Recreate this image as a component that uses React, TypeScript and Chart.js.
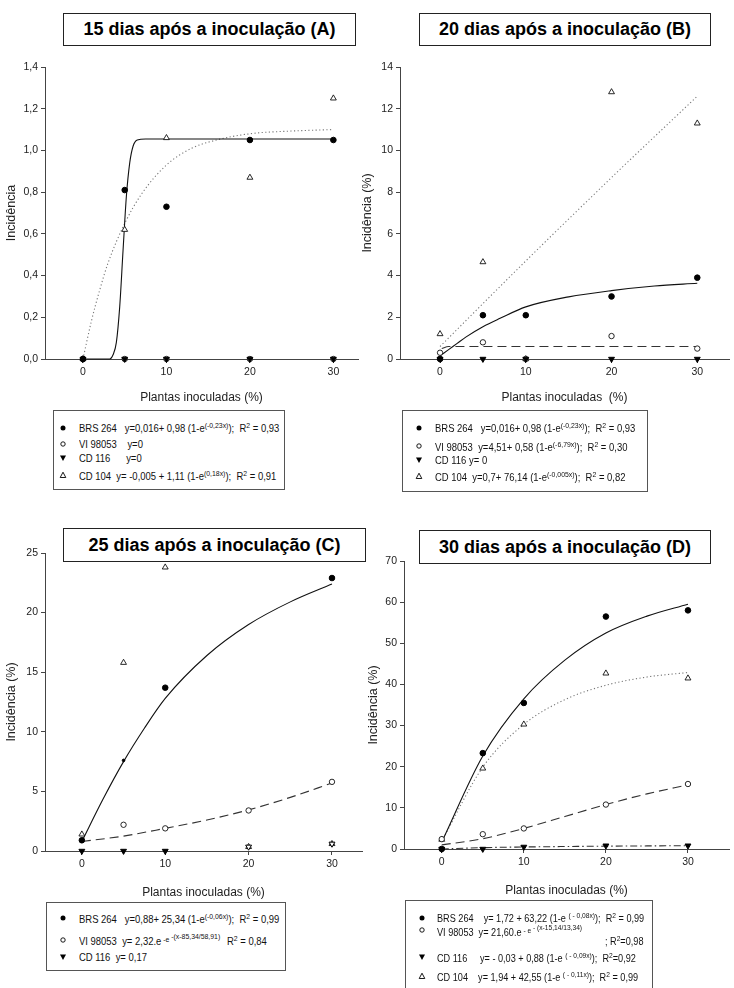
import React, { useEffect, useRef } from "react";
import { Chart, registerables } from "chart.js";
Chart.register(...registerables);

const NARROW = "'Liberation Sans Narrow', 'Arial Narrow', 'Liberation Sans', Arial, sans-serif";
const SANS = "'Liberation Sans', Arial, Helvetica, sans-serif";

// ---------- shared ----------
const X_PTS = [0, 5, 10, 20, 30];
const X_TICKS = [0, 10, 20, 30];

// ---------- Panel A (15 dias) ----------
const A_Y_TICKS = [0, 0.2, 0.4, 0.6, 0.8, 1.0, 1.2, 1.4];
const A_BRS = [0, 0.81, 0.73, 1.05, 1.05];
const A_VI = [0, 0, 0, 0, 0];
const A_CD116 = [0, 0, 0, 0, 0];
const A_CD104 = [0, 0.62, 1.06, 0.87, 1.25];
const A_FIT_BRS_X = [0, 3.2, 3.6, 4.0, 4.4, 4.8, 5.2, 5.6, 6.0, 6.5, 7.5, 10, 20, 30];
const A_FIT_BRS_Y = [0, 0, 0.02, 0.08, 0.25, 0.52, 0.78, 0.94, 1.02, 1.05, 1.055, 1.055, 1.055, 1.055];
const A_FIT_CD104_X = [0, 1, 2, 3, 5, 7, 10, 13, 16, 20, 25, 30];
const A_FIT_CD104_Y = [0, 0.18, 0.33, 0.46, 0.65, 0.79, 0.93, 1.01, 1.05, 1.08, 1.093, 1.1];

// ---------- Panel B (20 dias) ----------
const B_Y_TICKS = [0, 2, 4, 6, 8, 10, 12, 14];
const B_BRS = [0, 2.1, 2.1, 3.0, 3.9];
const B_VI = [0.3, 0.8, 0, 1.1, 0.5];
const B_CD116 = [0, 0, 0, 0, 0];
const B_CD104 = [1.2, 4.65, 0, 12.8, 11.3];
const B_FIT_BRS_X = [0, 1, 2, 3, 5, 7, 10, 15, 20, 25, 30];
const B_FIT_BRS_Y = [0.15, 0.45, 0.75, 1.05, 1.55, 1.95, 2.5, 2.98, 3.28, 3.5, 3.63];
const B_FIT_VI_X = [0.2, 1, 30];
const B_FIT_VI_Y = [0.5, 0.6, 0.6];
const B_FIT_CD104_X = [0, 10, 20, 30];
const B_FIT_CD104_Y = [0.6, 4.7, 8.7, 12.6];

// ---------- Panel C (25 dias) ----------
const C_Y_TICKS = [0, 5, 10, 15, 20, 25];
const C_BRS = [0.9, 7.6, 13.7, null, 22.9];
const C_VI = [null, 2.2, 1.9, 3.4, 5.8];
const C_CD116 = [0, 0, 0, 0.35, 0.6];
const C_CD104 = [1.4, 15.8, 23.8, 0.35, 0.6];
const C_FIT_BRS_X = [0, 2.5, 5, 7.5, 10, 15, 20, 25, 30];
const C_FIT_BRS_Y = [0.8, 4.3, 7.5, 10.3, 12.8, 16.4, 19.0, 20.9, 22.4];
const C_FIT_VI_X = [0, 5, 10, 15, 20, 25, 30];
const C_FIT_VI_Y = [0.8, 1.25, 1.9, 2.6, 3.45, 4.5, 5.7];

// ---------- Panel D (30 dias) ----------
const D_Y_TICKS = [0, 10, 20, 30, 40, 50, 60, 70];
const D_BRS = [0, 23.3, 35.5, 56.5, 58.0];
const D_VI = [2.4, 3.6, 5.0, 10.8, 15.8];
const D_CD116 = [0, 0, 0.5, 0.8, 0.8];
const D_CD104 = [2.3, 19.6, 30.3, 42.7, 41.5];
const D_FIT_X = [0, 5, 10, 15, 20, 25, 30];
const D_FIT_BRS_Y = [1.7, 22.6, 36.5, 45.9, 52.5, 56.6, 59.5];
const D_FIT_VI_Y = [1.0, 2.5, 5.0, 7.9, 10.8, 13.4, 15.6];
const D_FIT_CD104_Y = [1.9, 19.9, 30.3, 36.3, 39.8, 41.8, 42.9];
const D_FIT_CD116_Y = [0, 0.33, 0.49, 0.6, 0.69, 0.75, 0.8];

// ---------- styles ----------
const MK: any = {
  brs: { order: 0, pointStyle: "circle", pointRadius: 2.8, pointBackgroundColor: "#000", pointBorderColor: "#000", pointBorderWidth: 1 },
  cd116: { order: 1, pointStyle: "triangle", pointRotation: 180, pointRadius: 3.4, pointBackgroundColor: "#000", pointBorderColor: "#000", pointBorderWidth: 1 },
  vi: { order: 2, pointStyle: "circle", pointRadius: 2.7, pointBackgroundColor: "#fff", pointBorderColor: "#111", pointBorderWidth: 0.9 },
  cd104: { order: 3, pointStyle: "triangle", pointRadius: 3.4, pointBackgroundColor: "#fff", pointBorderColor: "#111", pointBorderWidth: 0.9 },
};
const LN: any = {
  solid: { borderColor: "#111", borderWidth: 1.1, borderDash: [] },
  dotted: { borderColor: "#777", borderWidth: 1.1, borderDash: [1.2, 2.4] },
  dashed: { borderColor: "#333", borderWidth: 1.1, borderDash: [9, 5] },
  dashdot: { borderColor: "#333", borderWidth: 1.1, borderDash: [7, 3, 1.5, 3] },
};

const commaFmt = (v: number) => v.toFixed(1).replace(".", ",");

const PANELS: any[] = [
  {
    left: 0, top: 55, width: 367, height: 350, padTop: 12, padRight: 9, padBottom: 0,
    yWidth: 45, xHeight: 46, xMin: -4.55, xMax: 32.95, yMax: 1.4, yTicks: A_Y_TICKS, yFmt: commaFmt,
    yTitle: "Incidência", yTitlePad: 4, xTitle: "Plantas inoculadas (%)",
    markers: [
      { ys: A_BRS, st: "brs" }, { ys: A_CD116, st: "cd116" }, { ys: A_VI, st: "vi" }, { ys: A_CD104, st: "cd104" },
    ],
    fits: [
      { xs: A_FIT_BRS_X, ys: A_FIT_BRS_Y, st: "solid" },
      { xs: A_FIT_CD104_X, ys: A_FIT_CD104_Y, st: "dotted" },
    ],
  },
  {
    left: 358, top: 55, width: 376, height: 350, padTop: 12, padRight: 5, padBottom: 0,
    yWidth: 42, xHeight: 46, xMin: -4.67, xMax: 33.7, yMax: 14, yTicks: B_Y_TICKS, yFmt: (v: number) => String(v),
    yTitle: "Incidência (%)", yTitlePad: 2, xTitle: "Plantas inoculadas  (%)",
    markers: [
      { ys: B_BRS, st: "brs" }, { ys: B_CD116, st: "cd116" }, { ys: B_VI, st: "vi" }, { ys: B_CD104, st: "cd104" },
    ],
    fits: [
      { xs: B_FIT_BRS_X, ys: B_FIT_BRS_Y, st: "solid" },
      { xs: B_FIT_VI_X, ys: B_FIT_VI_Y, st: "dashed" },
      { xs: B_FIT_CD104_X, ys: B_FIT_CD104_Y, st: "dotted" },
    ],
  },
  {
    left: 0, top: 540, width: 367, height: 360, padTop: 13, padRight: 4, padBottom: 0,
    yWidth: 45, xHeight: 49, xMin: -4.42, xMax: 33.6, yMax: 25, yTicks: C_Y_TICKS, yFmt: (v: number) => String(v),
    yTitle: "Incidência (%)", yTitlePad: 4, xTitle: "Plantas inoculadas (%)",
    markers: [
      { ys: C_BRS, st: "brs", radius: [2.8, 1.3, 2.8, 2.8, 2.8] },
      { ys: C_CD116, st: "cd116", bg: ["#000", "#000", "#000", "#fff", "#fff"] },
      { ys: C_VI, st: "vi" },
      { ys: C_CD104, st: "cd104" },
    ],
    fits: [
      { xs: C_FIT_BRS_X, ys: C_FIT_BRS_Y, st: "solid" },
      { xs: C_FIT_VI_X, ys: C_FIT_VI_Y, st: "dashed" },
    ],
  },
  {
    left: 364, top: 545, width: 370, height: 355, padTop: 16, padRight: 4, padBottom: 2,
    yWidth: 40, xHeight: 49, xMin: -4.6, xMax: 35, yMax: 70, yTicks: D_Y_TICKS, yFmt: (v: number) => String(v),
    yTitle: "Incidência (%)", yTitlePad: 2, xTitle: "Plantas inoculadas (%)",
    markers: [
      { ys: D_BRS, st: "brs" }, { ys: D_CD116, st: "cd116" }, { ys: D_VI, st: "vi" }, { ys: D_CD104, st: "cd104" },
    ],
    fits: [
      { xs: D_FIT_X, ys: D_FIT_BRS_Y, st: "solid" },
      { xs: D_FIT_X, ys: D_FIT_VI_Y, st: "dashed" },
      { xs: D_FIT_X, ys: D_FIT_CD104_Y, st: "dotted" },
      { xs: D_FIT_X, ys: D_FIT_CD116_Y, st: "dashdot" },
    ],
  },
];

function Panel({ cfg }: any) {
  const ref = useRef<HTMLCanvasElement>(null);
  useEffect(() => {
    const datasets: any[] = [];
    cfg.markers.forEach((m: any) => {
      const s = { ...MK[m.st] };
      if (m.radius) s.pointRadius = m.radius;
      if (m.bg) s.pointBackgroundColor = m.bg;
      datasets.push({
        data: X_PTS.map((x, i) => ({ x, y: m.ys[i] })),
        showLine: false,
        clip: false,
        ...s,
      });
    });
    cfg.fits.forEach((f: any) => {
      datasets.push({
        data: f.xs.map((x: number, i: number) => ({ x, y: f.ys[i] })),
        showLine: true,
        pointRadius: 0,
        fill: false,
        order: 10,
        cubicInterpolationMode: "monotone",
        clip: false,
        ...LN[f.st],
      });
    });
    const axisColor = "#444";
    const chart = new Chart(ref.current as HTMLCanvasElement, {
      type: "scatter",
      data: { datasets },
      options: {
        animation: false,
        responsive: false,
        maintainAspectRatio: false,
        events: [],
        layout: { padding: { top: cfg.padTop, right: cfg.padRight, bottom: cfg.padBottom, left: 0 } },
        plugins: { legend: { display: false }, tooltip: { enabled: false } },
        scales: {
          x: {
            type: "linear",
            min: cfg.xMin,
            max: cfg.xMax,
            afterBuildTicks: (s: any) => { s.ticks = X_TICKS.map((v) => ({ value: v })); },
            afterFit: (s: any) => { s.height = cfg.xHeight; },
            grid: { display: true, drawOnChartArea: false, drawTicks: true, tickLength: 4, color: axisColor, tickColor: axisColor },
            border: { display: true, color: axisColor, width: 1 },
            ticks: { font: { family: NARROW, size: 10.5 }, color: "#222", padding: 3, maxRotation: 0, autoSkip: false, callback: (v: any) => String(v) },
            title: { display: true, text: cfg.xTitle, font: { family: NARROW, size: 12 }, color: "#222", padding: { top: 0, bottom: 0 } },
          },
          y: {
            type: "linear",
            min: 0,
            max: cfg.yMax,
            afterBuildTicks: (s: any) => { s.ticks = cfg.yTicks.map((v: number) => ({ value: v })); },
            afterFit: (s: any) => { s.width = cfg.yWidth; },
            grid: { display: true, drawOnChartArea: false, drawTicks: true, tickLength: 4, color: axisColor, tickColor: axisColor },
            border: { display: true, color: axisColor, width: 1 },
            ticks: { font: { family: NARROW, size: 10.5 }, color: "#222", padding: 3, autoSkip: false, callback: (v: any) => cfg.yFmt(v) },
            title: { display: true, text: cfg.yTitle, font: { family: NARROW, size: 12.5 }, color: "#222", padding: { top: cfg.yTitlePad, bottom: 0 } },
          },
        },
      } as any,
    });
    return () => chart.destroy();
  }, []);
  return (
    <canvas
      ref={ref}
      width={cfg.width}
      height={cfg.height}
      style={{ position: "absolute", left: cfg.left, top: cfg.top, width: cfg.width, height: cfg.height }}
    />
  );
}

function TitleBox({ x, y, w, h, text }: any) {
  return (
    <div
      style={{
        position: "absolute", left: x, top: y, width: w, height: h, boxSizing: "border-box",
        border: "1.5px solid #222", background: "#fff", display: "flex", alignItems: "center",
        justifyContent: "center", fontFamily: SANS, fontWeight: "bold", fontSize: 18, color: "#000",
      }}
    >
      {text}
    </div>
  );
}

function LegendBox({ x, y, w, h }: any) {
  return (
    <div style={{ position: "absolute", left: x, top: y, width: w, height: h, boxSizing: "border-box", border: "1px solid #555", background: "#fff" }} />
  );
}

function Marker({ kind, x, y }: any) {
  let shape: any;
  if (kind === "brs") shape = <circle cx={4} cy={4} r={2.5} fill="#000" />;
  else if (kind === "vi") shape = <circle cx={4} cy={4} r={2.2} fill="#fff" stroke="#000" strokeWidth={0.9} />;
  else if (kind === "cd116") shape = <polygon points="1,1.5 7,1.5 4,7" fill="#000" />;
  else shape = <polygon points="4,1.2 6.8,6.5 1.2,6.5" fill="#fff" stroke="#000" strokeWidth={0.9} />;
  return (
    <svg width={8} height={8} style={{ position: "absolute", left: x - 4, top: y - 4 }}>
      {shape}
    </svg>
  );
}

const S = ({ children, up = 4 }: any) => (
  <span style={{ fontSize: 8, position: "relative", top: -up }}>{children}</span>
);

function Row({ x, y, sx = 0.86, children }: any) {
  return (
    <div
      style={{
        position: "absolute", left: x, top: y - 7, height: 14, lineHeight: "14px", fontSize: 11,
        fontFamily: NARROW, whiteSpace: "pre", color: "#111",
        transform: `scaleX(${sx})`, transformOrigin: "left center",
      }}
    >
      {children}
    </div>
  );
}

export default function App() {
  return (
    <div style={{ position: "absolute", left: 0, top: 0, width: 734, height: 988, overflow: "hidden", background: "#fff" }}>
      {PANELS.map((p, i) => (
        <Panel key={i} cfg={p} />
      ))}

      <TitleBox x={63} y={13} w={293} h={33} text="15 dias após a inoculação (A)" />
      <TitleBox x={419} y={13} w={292} h={33} text="20 dias após a inoculação (B)" />
      <TitleBox x={63} y={528} w={303} h={34} text="25 dias após a inoculação (C)" />
      <TitleBox x={419} y={530} w={292} h={34} text="30 dias após a inoculação (D)" />

      {/* Legend A */}
      <LegendBox x={53} y={410} w={232} h={80} />
      <Marker kind="brs" x={63} y={428} />
      <Row x={79} y={428}>BRS 264   y=0,016+ 0,98 (1-e<S>(-0,23x)</S>);  R<S>2</S> = 0,93</Row>
      <Marker kind="vi" x={63} y={444} />
      <Row x={79} y={444}>VI 98053    y=0</Row>
      <Marker kind="cd116" x={63} y={458} />
      <Row x={79} y={458}>CD 116      y=0</Row>
      <Marker kind="cd104" x={63} y={475} />
      <Row x={79} y={476}>CD 104  y= -0,005 + 1,11 (1-e<S>(0,18x)</S>);  R<S>2</S> = 0,91</Row>

      {/* Legend B */}
      <LegendBox x={402} y={410} w={246} h={82} />
      <Marker kind="brs" x={419} y={428} />
      <Row x={435} y={428}>BRS 264   y=0,016+ 0,98 (1-e<S>(-0,23x)</S>);  R<S>2</S> = 0,93</Row>
      <Marker kind="vi" x={419} y={446} />
      <Row x={435} y={447}>VI 98053  y=4,51+ 0,58 (1-e<S>(-6,79x)</S>);  R<S>2</S> = 0,30</Row>
      <Marker kind="cd116" x={419} y={460} />
      <Row x={435} y={460}>CD 116 y= 0</Row>
      <Marker kind="cd104" x={419} y={476} />
      <Row x={435} y={477}>CD 104  y=0,7+ 76,14 (1-e<S>(-0,005x)</S>);  R<S>2</S> = 0,82</Row>

      {/* Legend C */}
      <LegendBox x={46} y={902} w={240} h={69} />
      <Marker kind="brs" x={63} y={918} />
      <Row x={79} y={919}>BRS 264   y=0,88+ 25,34 (1-e<S>(-0,06x)</S>);  R<S>2</S> = 0,99</Row>
      <Marker kind="vi" x={63} y={940} />
      <Row x={79} y={941}>
        VI 98053  y= 2,32.e<S up={3}> -e </S><S up={6}>-(x-85,34/58,91)</S>
      </Row>
      <Row x={227} y={941}>R<S>2</S> = 0,84</Row>
      <Marker kind="cd116" x={63} y={957} />
      <Row x={79} y={957}>CD 116  y= 0,17</Row>

      {/* Legend D */}
      <LegendBox x={405} y={900} w={248} h={100} />
      <Marker kind="brs" x={422} y={918} />
      <Row x={437} y={918} sx={0.83}>BRS 264    y= 1,72 + 63,22 (1-e <S>( - 0,08x)</S>);  R<S>2</S> = 0,99</Row>
      <Marker kind="vi" x={422} y={930} />
      <Row x={437} y={932} sx={0.83}>
        VI 98053  y= 21,60.e<S up={3}> - e </S><S up={6}>- (x-15,14/13,34)</S>
      </Row>
      <Row x={605} y={941} sx={0.83}>; R<S>2</S>=0,98</Row>
      <Marker kind="cd116" x={422} y={957} />
      <Row x={437} y={958} sx={0.83}>CD 116     y= - 0,03 + 0,88 (1-e <S>( - 0,09x)</S>);  R<S>2</S>=0,92</Row>
      <Marker kind="cd104" x={422} y={976} />
      <Row x={437} y={977} sx={0.83}>CD 104    y= 1,94 + 42,55 (1-e <S>( - 0,11x)</S>);  R<S>2</S> = 0,99</Row>
    </div>
  );
}
